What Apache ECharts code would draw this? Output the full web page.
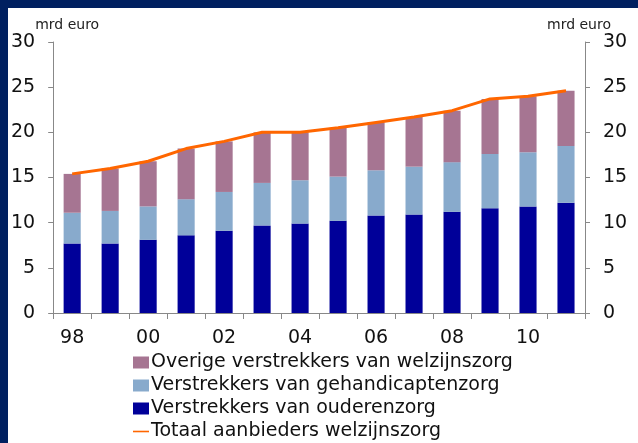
<!DOCTYPE html>
<html>
<head>
<meta charset="utf-8">
<script src="https://cdn.jsdelivr.net/npm/echarts@6/dist/echarts.min.js"></script>
<style>
  html, body { margin: 0; padding: 0; background: #002060; }
  #chart { position: absolute; left: 8px; top: 8px; width: 630px; height: 435px; background: #fff; }
</style>
</head>
<body>
<div id="chart"></div>
<script>
const years = ['98', '99', '00', '01', '02', '03', '04', '05', '06', '07', '08', '09', '10', '11'];
const ouderenzorg = [7.7, 7.7, 8.1, 8.6, 9.1, 9.7, 9.9, 10.2, 10.8, 10.9, 11.2, 11.6, 11.8, 12.2];
const gehandicaptenzorg = [3.4, 3.6, 3.7, 4.0, 4.3, 4.7, 4.8, 4.9, 5.0, 5.3, 5.5, 6.0, 6.0, 6.3];
const overige = [4.3, 4.7, 5.0, 5.6, 5.6, 5.6, 5.3, 5.4, 5.3, 5.5, 5.7, 6.1, 6.2, 6.1];
const totaal = [15.4, 16.0, 16.8, 18.2, 19.0, 20.0, 20.0, 20.5, 21.1, 21.7, 22.4, 23.7, 24.0, 24.6];
const yTicks = [0, 5, 10, 15, 20, 25, 30];

const names = [
  'Overige verstrekkers van welzijnszorg',
  'Verstrekkers van gehandicaptenzorg',
  'Verstrekkers van ouderenzorg',
  'Totaal aanbieders welzijnszorg',
];

const font = 'DejaVu Sans';

const yAxisBase = (pos) => ({
  type: 'value',
  position: pos,
  min: yTicks[0],
  max: yTicks[yTicks.length - 1],
  interval: 5,
  name: 'mrd euro',
  nameLocation: 'end',
  nameGap: 10,
  nameTextStyle: { fontFamily: font, fontSize: 14, color: '#222', align: pos === 'left' ? 'left' : 'right',
    padding: pos === 'left' ? [0, 0, 0, -18] : [0, -26, 0, 0] },
  axisLine: { show: true, lineStyle: { color: '#888', width: 1 } },
  axisTick: { show: true, length: 5, lineStyle: { color: '#888' } },
  splitLine: { show: false },
  axisLabel: { fontFamily: font, fontSize: 19, color: '#111', margin: pos === 'left' ? 18 : 18 },
});

const chart = echarts.init(document.getElementById('chart'));
chart.setOption({
  animation: false,
  grid: { left: 45, right: 53, top: 34, bottom: 130 },
  legend: {
    orient: 'vertical',
    left: 125,
    top: 343,
    padding: 0,
    itemWidth: 16,
    itemHeight: 12,
    itemGap: 0,
    textStyle: { fontFamily: font, fontSize: 19, lineHeight: 23, color: '#111', padding: [0, 0, 0, -3] },
    data: names.map((n, i) => i === 3 ? { name: n, icon: 'path://M0,5 L20,5 L20,7 L0,7 Z' } : { name: n, icon: 'rect' }),
  },
  xAxis: {
    type: 'category',
    data: years,
    axisLine: { lineStyle: { color: '#888' } },
    axisTick: { show: true, interval: 0, length: 6, lineStyle: { color: '#888' } },
    axisLabel: { interval: 1, fontFamily: font, fontSize: 19, color: '#111', margin: 16 },
  },
  yAxis: [yAxisBase('left'), yAxisBase('right')],
  series: [
    { name: names[2], type: 'bar', stack: 'a', data: ouderenzorg, barWidth: '45%', itemStyle: { color: '#000099' } },
    { name: names[1], type: 'bar', stack: 'a', data: gehandicaptenzorg, itemStyle: { color: '#88AACC' } },
    { name: names[0], type: 'bar', stack: 'a', data: overige, itemStyle: { color: '#A67592' } },
    { name: names[3], type: 'line', data: totaal, symbol: 'none', lineStyle: { color: '#FF6600', width: 3 }, itemStyle: { color: '#FF6600' } },
  ],
});
</script>
</body>
</html>
